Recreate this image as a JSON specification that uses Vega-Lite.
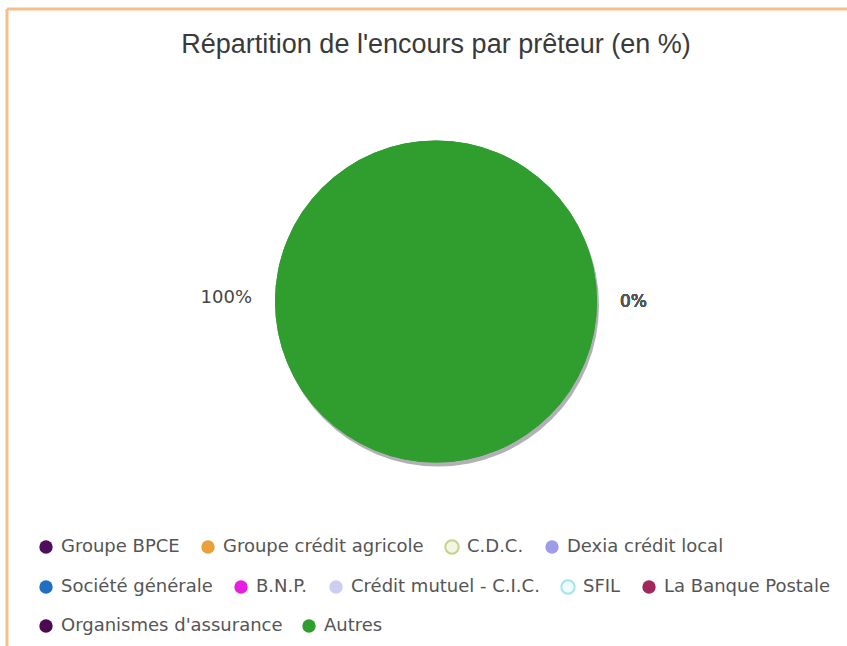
{
  "$schema": "https://vega.github.io/schema/vega-lite/v6.json",
  "width": 840,
  "height": 637,
  "autosize": {"type": "none"},
  "padding": {"left": 7, "top": 9, "right": 0, "bottom": 0},
  "background": "white",
  "title": {
    "text": "Répartition de l'encours par prêteur (en %)",
    "font": "Liberation Sans",
    "fontSize": 27,
    "fontWeight": "normal",
    "color": "#3a3a3a",
    "anchor": "middle",
    "offset": -53,
    "dx": 9
  },
  "config": {
    "view": {"stroke": "#f9bd8b", "strokeWidth": 3, "strokeDash": [840, 1477, 637, 0]},
    "legend": {
      "labelFont": "DejaVu Sans",
      "labelFontSize": 18,
      "labelColor": "#555555",
      "labelLimit": 500,
      "symbolType": "circle",
      "symbolSize": 180,
      "symbolStrokeWidth": 0,
      "symbolOpacity": 1,
      "labelOffset": 6,
      "columnPadding": 17,
      "padding": 0,
      "gridAlign": "none",
      "direction": "horizontal",
      "orient": "none",
      "title": null
    }
  },
  "data": {
    "values": [
      {"preteur": "Groupe BPCE", "part": 0},
      {"preteur": "Groupe crédit agricole", "part": 0},
      {"preteur": "C.D.C.", "part": 0},
      {"preteur": "Dexia crédit local", "part": 0},
      {"preteur": "Société générale", "part": 0},
      {"preteur": "B.N.P.", "part": 0},
      {"preteur": "Crédit mutuel - C.I.C.", "part": 0},
      {"preteur": "SFIL", "part": 0},
      {"preteur": "La Banque Postale", "part": 0},
      {"preteur": "Organismes d'assurance", "part": 0},
      {"preteur": "Autres", "part": 1}
    ]
  },
  "layer": [
    {
      "mark": {"type": "point", "opacity": 0},
      "encoding": {
        "x": {"field": "part", "type": "quantitative", "axis": null},
        "y": {"field": "part", "type": "quantitative", "axis": null}
      }
    },
    {
      "transform": [{"filter": "datum.preteur === 'Autres'"}],
      "mark": {"type": "arc", "outerRadius": 161, "color": "#6f6f7a", "opacity": 0.55, "xOffset": 11, "yOffset": -22},
      "encoding": {
        "theta": {"field": "part", "type": "quantitative", "stack": true, "scale": {"domain": [0, 1], "range": [1.5707963, 7.8539816]}}
      }
    },
    {
      "mark": {"type": "arc", "outerRadius": 161, "xOffset": 9, "yOffset": -26},
      "encoding": {
        "theta": {"field": "part", "type": "quantitative", "stack": true, "scale": {"domain": [0, 1], "range": [1.5707963, 7.8539816]}},
        "color": {
          "field": "preteur",
          "type": "nominal",
          "scale": {
            "domain": ["Groupe BPCE", "Groupe crédit agricole", "C.D.C.", "Dexia crédit local", "Société générale", "B.N.P.", "Crédit mutuel - C.I.C.", "SFIL", "La Banque Postale", "Organismes d'assurance", "Autres"],
            "range": ["#4d0f59", "#e8a13a", "#f4f6e4", "#9c9ce8", "#1f6fc2", "#e51ee0", "#cdcdf0", "#eefcfc", "#a0285a", "#4b0a4e", "#2f9e2f"]
          },
          "legend": {
            "values": ["Groupe BPCE", "Groupe crédit agricole", "C.D.C.", "Dexia crédit local"],
            "columns": 4,
            "legendX": 30,
            "legendY": 529,
            "encode": {"symbols": {"update": {"stroke": {"signal": "datum.value === 'C.D.C.' ? '#c4d388' : datum.value === 'SFIL' ? '#a5e3ee' : 'transparent'"}, "strokeWidth": {"value": 2}}}}
          }
        }
      }
    },
    {
      "transform": [{"filter": "indexof(['Société générale','B.N.P.','Crédit mutuel - C.I.C.','SFIL','La Banque Postale'], datum.preteur) >= 0"}],
      "mark": {"type": "arc", "outerRadius": 161, "xOffset": 9, "yOffset": -26},
      "encoding": {
        "theta": {"field": "part", "type": "quantitative", "stack": true},
        "color": {
          "field": "preteur",
          "type": "nominal",
          "scale": {
            "domain": ["Société générale", "B.N.P.", "Crédit mutuel - C.I.C.", "SFIL", "La Banque Postale"],
            "range": ["#1f6fc2", "#e51ee0", "#cdcdf0", "#eefcfc", "#a0285a"]
          },
          "legend": {
            "columns": 5,
            "legendX": 30,
            "legendY": 569,
            "encode": {"symbols": {"update": {"stroke": {"signal": "datum.value === 'SFIL' ? '#a5e3ee' : 'transparent'"}, "strokeWidth": {"value": 2}}}}
          }
        }
      }
    },
    {
      "transform": [{"filter": "datum.preteur === 'Organismes d\\'assurance' || datum.preteur === 'Autres'"}],
      "mark": {"type": "arc", "outerRadius": 161, "xOffset": 9, "yOffset": -26},
      "encoding": {
        "theta": {"field": "part", "type": "quantitative", "stack": true},
        "color": {
          "field": "preteur",
          "type": "nominal",
          "scale": {
            "domain": ["Organismes d'assurance", "Autres"],
            "range": ["#4b0a4e", "#2f9e2f"]
          },
          "legend": {"columns": 2, "legendX": 30, "legendY": 608}
        }
      }
    },
    {
      "transform": [{"filter": "datum.part > 0"}],
      "mark": {"type": "text", "radius": 184, "align": "right", "baseline": "middle", "font": "DejaVu Sans", "fontSize": 18, "color": "#444444", "xOffset": 9, "yOffset": -30},
      "encoding": {
        "theta": {"field": "part", "type": "quantitative", "stack": true},
        "text": {"field": "part", "type": "quantitative", "format": ".0%"}
      }
    },
    {
      "transform": [{"filter": "datum.part === 0"}],
      "mark": {"type": "text", "radius": 184, "align": "left", "baseline": "middle", "font": "DejaVu Sans", "fontSize": 17, "color": "#555555", "xOffset": 9, "yOffset": -26},
      "encoding": {
        "theta": {"field": "part", "type": "quantitative", "stack": true},
        "detail": {"field": "preteur", "type": "nominal"},
        "text": {"field": "part", "type": "quantitative", "format": ".0%"}
      }
    }
  ],
  "resolve": {"scale": {"color": "independent"}, "legend": {"color": "independent"}}
}
